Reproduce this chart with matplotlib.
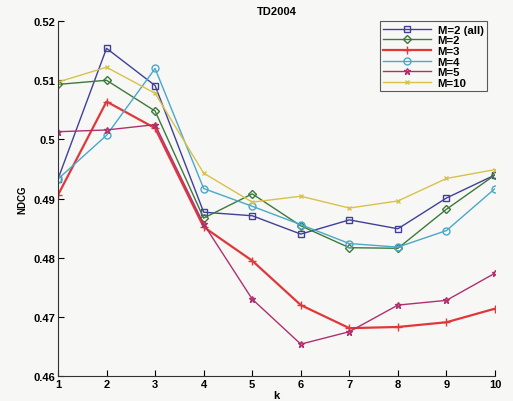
import numpy as np
from matplotlib import pyplot as plt

plt.rcParams['font.family'] = ['Liberation Sans', 'DejaVu Sans']

k = [1, 2, 3, 4, 5, 6, 7, 8, 9, 10]
labels = ['M=2 (all)', 'M=2', 'M=3', 'M=4', 'M=5', 'M=10']

m2_all = [0.4933, 0.5154, 0.5091, 0.4877, 0.4871, 0.4840, 0.4864, 0.4849, 0.4901, 0.4940]
m2     = [0.5093, 0.5100, 0.5048, 0.4867, 0.4908, 0.4854, 0.4817, 0.4816, 0.4882, 0.4940]
m3     = [0.4906, 0.5064, 0.5019, 0.4852, 0.4795, 0.4720, 0.4681, 0.4683, 0.4691, 0.4714]
m4     = [0.4933, 0.5007, 0.5120, 0.4917, 0.4887, 0.4856, 0.4824, 0.4818, 0.4846, 0.4917]
m5     = [0.5013, 0.5016, 0.5025, 0.4857, 0.4730, 0.4654, 0.4675, 0.4720, 0.4728, 0.4774]
m10    = [0.5097, 0.5122, 0.5078, 0.4943, 0.4894, 0.4904, 0.4884, 0.4896, 0.4934, 0.4949]

series = [m2_all, m2, m3, m4, m5, m10]
colors = ['#40409a', '#3d7a3a', '#e0383a', '#4aa8c8', '#b0306e', '#d8c24a']
markers = ['s', 'D', '+', 'o', '*', 'x']
widths = [1.0, 1.0, 1.6, 1.0, 1.0, 1.0]
msizes = [4.5, 4, 6, 5, 4.5, 3]

fig = plt.figure(figsize=(5.13, 4.02), dpi=100, facecolor='#f7f7f5')
ax = fig.add_axes([0.113, 0.062, 0.852, 0.883])
ax.set_facecolor('#f7f7f5')

for i in range(len(series)):
    ax.plot(k, series[i], color=colors[i], marker=markers[i], lw=widths[i],
            ms=msizes[i], mfc='none', mew=1.0, label=labels[i])

ax.set_xlim(1, 10)
ax.set_ylim(0.46, 0.52)
ax.set_xticks(k)
ax.set_yticks([0.46, 0.47, 0.48, 0.49, 0.5, 0.51, 0.52])
ax.set_yticklabels(['0.46', '0.47', '0.48', '0.49', '0.5', '0.51', '0.52'])
ax.tick_params(labelsize=8, direction='in', length=4, width=0.8, pad=2)
for lab in ax.get_xticklabels() + ax.get_yticklabels():
    lab.set_fontweight('bold')
ax.spines['top'].set_visible(False)
ax.spines['right'].set_visible(False)
ax.spines['left'].set_color('#333333')
ax.spines['bottom'].set_color('#333333')

ax.set_title('TD2004', fontsize=8, fontweight='bold', pad=5)
ax.set_xlabel('k', fontsize=8, fontweight='bold', labelpad=1)
ax.set_ylabel('NDCG', fontsize=7, fontweight='bold', labelpad=4)

leg = ax.legend(loc='upper right', bbox_to_anchor=(0.995, 1.015),
                frameon=True, fancybox=False, borderpad=0.3, labelspacing=0.05,
                handlelength=4.2, handletextpad=0.6, prop={'weight': 'bold', 'size': 8.2})
leg.get_frame().set_edgecolor('#333333')
leg.get_frame().set_facecolor('#f7f7f5')
leg.get_frame().set_linewidth(0.8)

plt.savefig('out.png', dpi=100, facecolor=fig.get_facecolor())
